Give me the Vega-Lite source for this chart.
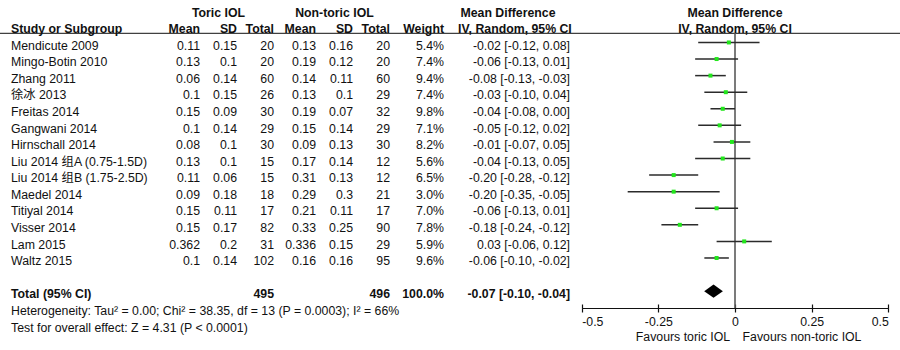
{
  "$schema": "https://vega.github.io/schema/vega-lite/v6.json",
  "width": 900,
  "height": 350,
  "padding": 0,
  "autosize": {"type": "none"},
  "background": "white",
  "config": {
    "view": {"stroke": null},
    "text": {"font": "Liberation Sans, Noto Sans CJK SC", "fontSize": 12.3, "baseline": "middle", "color": "#111"}
  },
  "datasets": {
    "studies": [
      {"study": "Mendicute 2009", "t_mean": 0.11, "t_sd": 0.15, "t_n": 20, "c_mean": 0.13, "c_sd": 0.16, "c_n": 20, "weight": 0.054, "md": -0.02, "lo": -0.12, "hi": 0.08, "ci": "-0.02 [-0.12, 0.08]"},
      {"study": "Mingo-Botin 2010", "t_mean": 0.13, "t_sd": 0.1, "t_n": 20, "c_mean": 0.19, "c_sd": 0.12, "c_n": 20, "weight": 0.074, "md": -0.06, "lo": -0.13, "hi": 0.01, "ci": "-0.06 [-0.13, 0.01]"},
      {"study": "Zhang 2011", "t_mean": 0.06, "t_sd": 0.14, "t_n": 60, "c_mean": 0.14, "c_sd": 0.11, "c_n": 60, "weight": 0.094, "md": -0.08, "lo": -0.13, "hi": -0.03, "ci": "-0.08 [-0.13, -0.03]"},
      {"study": "徐冰 2013", "t_mean": 0.1, "t_sd": 0.15, "t_n": 26, "c_mean": 0.13, "c_sd": 0.1, "c_n": 29, "weight": 0.074, "md": -0.03, "lo": -0.10, "hi": 0.04, "ci": "-0.03 [-0.10, 0.04]"},
      {"study": "Freitas 2014", "t_mean": 0.15, "t_sd": 0.09, "t_n": 30, "c_mean": 0.19, "c_sd": 0.07, "c_n": 32, "weight": 0.098, "md": -0.04, "lo": -0.08, "hi": 0.0, "ci": "-0.04 [-0.08, 0.00]"},
      {"study": "Gangwani 2014", "t_mean": 0.1, "t_sd": 0.14, "t_n": 29, "c_mean": 0.15, "c_sd": 0.14, "c_n": 29, "weight": 0.071, "md": -0.05, "lo": -0.12, "hi": 0.02, "ci": "-0.05 [-0.12, 0.02]"},
      {"study": "Hirnschall 2014", "t_mean": 0.08, "t_sd": 0.1, "t_n": 30, "c_mean": 0.09, "c_sd": 0.13, "c_n": 30, "weight": 0.082, "md": -0.01, "lo": -0.07, "hi": 0.05, "ci": "-0.01 [-0.07, 0.05]"},
      {"study": "Liu 2014 组A (0.75-1.5D)", "t_mean": 0.13, "t_sd": 0.1, "t_n": 15, "c_mean": 0.17, "c_sd": 0.14, "c_n": 12, "weight": 0.056, "md": -0.04, "lo": -0.13, "hi": 0.05, "ci": "-0.04 [-0.13, 0.05]"},
      {"study": "Liu 2014 组B (1.75-2.5D)", "t_mean": 0.11, "t_sd": 0.06, "t_n": 15, "c_mean": 0.31, "c_sd": 0.13, "c_n": 12, "weight": 0.065, "md": -0.20, "lo": -0.28, "hi": -0.12, "ci": "-0.20 [-0.28, -0.12]"},
      {"study": "Maedel 2014", "t_mean": 0.09, "t_sd": 0.18, "t_n": 18, "c_mean": 0.29, "c_sd": 0.3, "c_n": 21, "weight": 0.03, "md": -0.20, "lo": -0.35, "hi": -0.05, "ci": "-0.20 [-0.35, -0.05]"},
      {"study": "Titiyal 2014", "t_mean": 0.15, "t_sd": 0.11, "t_n": 17, "c_mean": 0.21, "c_sd": 0.11, "c_n": 17, "weight": 0.07, "md": -0.06, "lo": -0.13, "hi": 0.01, "ci": "-0.06 [-0.13, 0.01]"},
      {"study": "Visser 2014", "t_mean": 0.15, "t_sd": 0.17, "t_n": 82, "c_mean": 0.33, "c_sd": 0.25, "c_n": 90, "weight": 0.078, "md": -0.18, "lo": -0.24, "hi": -0.12, "ci": "-0.18 [-0.24, -0.12]"},
      {"study": "Lam 2015", "t_mean": 0.362, "t_sd": 0.2, "t_n": 31, "c_mean": 0.336, "c_sd": 0.15, "c_n": 29, "weight": 0.059, "md": 0.03, "lo": -0.06, "hi": 0.12, "ci": "0.03 [-0.06, 0.12]"},
      {"study": "Waltz 2015", "t_mean": 0.1, "t_sd": 0.14, "t_n": 102, "c_mean": 0.16, "c_sd": 0.16, "c_n": 95, "weight": 0.096, "md": -0.06, "lo": -0.10, "hi": -0.02, "ci": "-0.06 [-0.10, -0.02]"}
    ],
    "total": [
      {"study": "Total (95% CI)", "t_n": 495, "c_n": 496, "weight": 1.0, "md": -0.07, "lo": -0.10, "hi": -0.04, "ci": "-0.07 [-0.10, -0.04]"}
    ],
    "headers": [
      {"line": "h1", "col": "t_sd", "text": "Toric IOL"},
      {"line": "h1", "col": "c_sd", "text": "Non-toric IOL"},
      {"line": "h1", "col": "ci", "text": "Mean Difference"},
      {"line": "h1", "col": "plot", "text": "Mean Difference"},
      {"line": "h2", "col": "study", "text": "Study or Subgroup"},
      {"line": "h2", "col": "t_mean", "text": "Mean"},
      {"line": "h2", "col": "t_sd", "text": "SD"},
      {"line": "h2", "col": "t_n", "text": "Total"},
      {"line": "h2", "col": "c_mean", "text": "Mean"},
      {"line": "h2", "col": "c_sd", "text": "SD"},
      {"line": "h2", "col": "c_n", "text": "Total"},
      {"line": "h2", "col": "weight", "text": "Weight"},
      {"line": "h2", "col": "ci", "text": "IV, Random, 95% CI"},
      {"line": "h2", "col": "plot", "text": "IV, Random, 95% CI"}
    ],
    "footers": [
      {"line": "het", "col": "study", "text": "Heterogeneity: Tau² = 0.00; Chi² = 38.35, df = 13 (P = 0.0003); I² = 66%"},
      {"line": "test", "col": "study", "text": "Test for overall effect: Z = 4.31 (P < 0.0001)"}
    ],
    "favours": [
      {"side": "toric", "text": "Favours toric IOL"},
      {"side": "non-toric", "text": "Favours non-toric IOL"}
    ]
  },
  "layer": [
    {
      "data": {"values": [{"element": "header rule"}]},
      "mark": {"type": "rule", "color": "#111", "strokeWidth": 1},
      "encoding": {
        "y": {"datum": 0, "type": "quantitative", "scale": {"domain": [0, 1], "range": [33.3, 308], "nice": false, "zero": false}, "axis": null}
      }
    },
    {
      "data": {"values": [{"element": "zero line"}]},
      "mark": {"type": "rule", "color": "#5a5a5a", "strokeWidth": 1.6},
      "encoding": {
        "x": {"datum": 0, "type": "quantitative", "scale": {"domain": [-0.5, 0.5], "range": [581.7, 888.3], "nice": false, "zero": false},
          "axis": {"orient": "bottom", "offset": -42, "values": [-0.5, -0.25, 0, 0.25, 0.5], "domain": false, "ticks": true, "tickSize": -4, "tickColor": "#111", "tickWidth": 1.2, "labels": false, "grid": false, "title": null}},
        "y": {"datum": 0, "type": "quantitative", "scale": {"domain": [0, 1], "range": [33.3, 308], "nice": false, "zero": false}, "axis": null},
        "y2": {"datum": 1}
      }
    },
    {
      "data": {"name": "favours"},
      "mark": {"type": "text", "align": "center"},
      "encoding": {
        "x": {"field": "side", "type": "nominal", "scale": {"type": "point", "domain": ["toric", "non-toric"], "range": [683, 802], "padding": 0}, "axis": null},
        "y": {"field": "side", "type": "nominal", "scale": {"type": "point", "domain": ["toric", "non-toric"], "range": [336.7, 336.7], "padding": 0}, "axis": null},
        "text": {"field": "text", "type": "nominal"}
      }
    },
    {
      "data": {"name": "studies"},
      "transform": [{"fold": ["study"], "as": ["col", "val"]}],
      "mark": {"type": "text", "align": "left"},
      "encoding": {
        "x": {"field": "col", "type": "nominal", "bandPosition": 0, "scale": {"type": "band", "domain": ["study"], "range": [11, 150], "paddingInner": 0, "paddingOuter": 0}, "axis": null},
        "y": {"field": "study", "type": "nominal", "scale": {"type": "point", "domain": ["h1","h2","Mendicute 2009","Mingo-Botin 2010","Zhang 2011","徐冰 2013","Freitas 2014","Gangwani 2014","Hirnschall 2014","Liu 2014 组A (0.75-1.5D)","Liu 2014 组B (1.75-2.5D)","Maedel 2014","Titiyal 2014","Visser 2014","Lam 2015","Waltz 2015","gap","Total (95% CI)","het","test"], "range": [12.5, 327.5], "padding": 0}, "axis": null},
        "text": {"field": "val", "type": "nominal"}
      }
    },
    {
      "data": {"name": "total"},
      "transform": [{"fold": ["study"], "as": ["col", "val"]}],
      "mark": {"type": "text", "align": "left", "fontWeight": "bold"},
      "encoding": {
        "x": {"field": "col", "type": "nominal", "bandPosition": 0, "scale": {"type": "band", "domain": ["study"], "range": [11, 150], "paddingInner": 0, "paddingOuter": 0}, "axis": null},
        "y": {"field": "study", "type": "nominal", "scale": {"type": "point", "domain": ["h1","h2","Mendicute 2009","Mingo-Botin 2010","Zhang 2011","徐冰 2013","Freitas 2014","Gangwani 2014","Hirnschall 2014","Liu 2014 组A (0.75-1.5D)","Liu 2014 组B (1.75-2.5D)","Maedel 2014","Titiyal 2014","Visser 2014","Lam 2015","Waltz 2015","gap","Total (95% CI)","het","test"], "range": [12.5, 327.5], "padding": 0}, "axis": null},
        "text": {"field": "val", "type": "nominal"}
      }
    },
    {
      "data": {"name": "headers"},
      "transform": [{"filter": "datum.col == 'study'"}],
      "mark": {"type": "text", "align": "left", "fontWeight": "bold"},
      "encoding": {
        "x": {"field": "col", "type": "nominal", "bandPosition": 0, "scale": {"type": "band", "domain": ["study"], "range": [11, 150], "paddingInner": 0, "paddingOuter": 0}, "axis": null},
        "y": {"field": "line", "type": "nominal", "scale": {"type": "point", "domain": ["h1","h2","Mendicute 2009","Mingo-Botin 2010","Zhang 2011","徐冰 2013","Freitas 2014","Gangwani 2014","Hirnschall 2014","Liu 2014 组A (0.75-1.5D)","Liu 2014 组B (1.75-2.5D)","Maedel 2014","Titiyal 2014","Visser 2014","Lam 2015","Waltz 2015","gap","Total (95% CI)","het","test"], "range": [12.5, 327.5], "padding": 0}, "axis": null},
        "text": {"field": "text", "type": "nominal"}
      }
    },
    {
      "data": {"name": "footers"},
      "mark": {"type": "text", "align": "left"},
      "encoding": {
        "x": {"field": "col", "type": "nominal", "bandPosition": 0, "scale": {"type": "band", "domain": ["study"], "range": [11, 150], "paddingInner": 0, "paddingOuter": 0}, "axis": null},
        "y": {"field": "line", "type": "nominal", "scale": {"type": "point", "domain": ["h1","h2","Mendicute 2009","Mingo-Botin 2010","Zhang 2011","徐冰 2013","Freitas 2014","Gangwani 2014","Hirnschall 2014","Liu 2014 组A (0.75-1.5D)","Liu 2014 组B (1.75-2.5D)","Maedel 2014","Titiyal 2014","Visser 2014","Lam 2015","Waltz 2015","gap","Total (95% CI)","het","test"], "range": [12.5, 327.5], "padding": 0}, "axis": null},
        "text": {"field": "text", "type": "nominal"}
      }
    },
    {
      "data": {"name": "studies"},
      "transform": [{"fold": ["t_mean", "t_sd", "t_n"], "as": ["col", "val"]}],
      "mark": {"type": "text", "align": "right"},
      "encoding": {
        "x": {"field": "col", "type": "nominal", "bandPosition": 1, "scale": {"type": "band", "domain": ["t_mean", "t_sd", "t_n"], "range": [163, 274], "paddingInner": 0, "paddingOuter": 0}, "axis": null},
        "y": {"field": "study", "type": "nominal", "scale": {"type": "point", "domain": ["h1","h2","Mendicute 2009","Mingo-Botin 2010","Zhang 2011","徐冰 2013","Freitas 2014","Gangwani 2014","Hirnschall 2014","Liu 2014 组A (0.75-1.5D)","Liu 2014 组B (1.75-2.5D)","Maedel 2014","Titiyal 2014","Visser 2014","Lam 2015","Waltz 2015","gap","Total (95% CI)","het","test"], "range": [12.5, 327.5], "padding": 0}, "axis": null},
        "text": {"field": "val", "type": "nominal"}
      }
    },
    {
      "data": {"name": "total"},
      "transform": [{"fold": ["t_n"], "as": ["col", "val"]}],
      "mark": {"type": "text", "align": "right", "fontWeight": "bold"},
      "encoding": {
        "x": {"field": "col", "type": "nominal", "bandPosition": 1, "scale": {"type": "band", "domain": ["t_mean", "t_sd", "t_n"], "range": [163, 274], "paddingInner": 0, "paddingOuter": 0}, "axis": null},
        "y": {"field": "study", "type": "nominal", "scale": {"type": "point", "domain": ["h1","h2","Mendicute 2009","Mingo-Botin 2010","Zhang 2011","徐冰 2013","Freitas 2014","Gangwani 2014","Hirnschall 2014","Liu 2014 组A (0.75-1.5D)","Liu 2014 组B (1.75-2.5D)","Maedel 2014","Titiyal 2014","Visser 2014","Lam 2015","Waltz 2015","gap","Total (95% CI)","het","test"], "range": [12.5, 327.5], "padding": 0}, "axis": null},
        "text": {"field": "val", "type": "nominal"}
      }
    },
    {
      "data": {"name": "headers"},
      "transform": [{"filter": "datum.line == 'h2' && indexof(datum.col, 't_') == 0"}],
      "mark": {"type": "text", "align": "right", "fontWeight": "bold"},
      "encoding": {
        "x": {"field": "col", "type": "nominal", "bandPosition": 1, "scale": {"type": "band", "domain": ["t_mean", "t_sd", "t_n"], "range": [163, 274], "paddingInner": 0, "paddingOuter": 0}, "axis": null},
        "y": {"field": "line", "type": "nominal", "scale": {"type": "point", "domain": ["h1","h2","Mendicute 2009","Mingo-Botin 2010","Zhang 2011","徐冰 2013","Freitas 2014","Gangwani 2014","Hirnschall 2014","Liu 2014 组A (0.75-1.5D)","Liu 2014 组B (1.75-2.5D)","Maedel 2014","Titiyal 2014","Visser 2014","Lam 2015","Waltz 2015","gap","Total (95% CI)","het","test"], "range": [12.5, 327.5], "padding": 0}, "axis": null},
        "text": {"field": "text", "type": "nominal"}
      }
    },
    {
      "data": {"name": "headers"},
      "transform": [{"filter": "datum.line == 'h1' && datum.col == 't_sd'"}],
      "mark": {"type": "text", "align": "center", "fontWeight": "bold"},
      "encoding": {
        "x": {"field": "col", "type": "nominal", "bandPosition": 0.5, "scale": {"type": "band", "domain": ["t_mean", "t_sd", "t_n"], "range": [163, 274], "paddingInner": 0, "paddingOuter": 0}, "axis": null},
        "y": {"field": "line", "type": "nominal", "scale": {"type": "point", "domain": ["h1","h2","Mendicute 2009","Mingo-Botin 2010","Zhang 2011","徐冰 2013","Freitas 2014","Gangwani 2014","Hirnschall 2014","Liu 2014 组A (0.75-1.5D)","Liu 2014 组B (1.75-2.5D)","Maedel 2014","Titiyal 2014","Visser 2014","Lam 2015","Waltz 2015","gap","Total (95% CI)","het","test"], "range": [12.5, 327.5], "padding": 0}, "axis": null},
        "text": {"field": "text", "type": "nominal"}
      }
    },
    {
      "data": {"name": "studies"},
      "transform": [{"fold": ["c_mean", "c_sd", "c_n"], "as": ["col", "val"]}],
      "mark": {"type": "text", "align": "right"},
      "encoding": {
        "x": {"field": "col", "type": "nominal", "bandPosition": 1, "scale": {"type": "band", "domain": ["c_mean", "c_sd", "c_n"], "range": [279, 390], "paddingInner": 0, "paddingOuter": 0}, "axis": null},
        "y": {"field": "study", "type": "nominal", "scale": {"type": "point", "domain": ["h1","h2","Mendicute 2009","Mingo-Botin 2010","Zhang 2011","徐冰 2013","Freitas 2014","Gangwani 2014","Hirnschall 2014","Liu 2014 组A (0.75-1.5D)","Liu 2014 组B (1.75-2.5D)","Maedel 2014","Titiyal 2014","Visser 2014","Lam 2015","Waltz 2015","gap","Total (95% CI)","het","test"], "range": [12.5, 327.5], "padding": 0}, "axis": null},
        "text": {"field": "val", "type": "nominal"}
      }
    },
    {
      "data": {"name": "total"},
      "transform": [{"fold": ["c_n"], "as": ["col", "val"]}],
      "mark": {"type": "text", "align": "right", "fontWeight": "bold"},
      "encoding": {
        "x": {"field": "col", "type": "nominal", "bandPosition": 1, "scale": {"type": "band", "domain": ["c_mean", "c_sd", "c_n"], "range": [279, 390], "paddingInner": 0, "paddingOuter": 0}, "axis": null},
        "y": {"field": "study", "type": "nominal", "scale": {"type": "point", "domain": ["h1","h2","Mendicute 2009","Mingo-Botin 2010","Zhang 2011","徐冰 2013","Freitas 2014","Gangwani 2014","Hirnschall 2014","Liu 2014 组A (0.75-1.5D)","Liu 2014 组B (1.75-2.5D)","Maedel 2014","Titiyal 2014","Visser 2014","Lam 2015","Waltz 2015","gap","Total (95% CI)","het","test"], "range": [12.5, 327.5], "padding": 0}, "axis": null},
        "text": {"field": "val", "type": "nominal"}
      }
    },
    {
      "data": {"name": "headers"},
      "transform": [{"filter": "datum.line == 'h2' && indexof(datum.col, 'c_') == 0"}],
      "mark": {"type": "text", "align": "right", "fontWeight": "bold"},
      "encoding": {
        "x": {"field": "col", "type": "nominal", "bandPosition": 1, "scale": {"type": "band", "domain": ["c_mean", "c_sd", "c_n"], "range": [279, 390], "paddingInner": 0, "paddingOuter": 0}, "axis": null},
        "y": {"field": "line", "type": "nominal", "scale": {"type": "point", "domain": ["h1","h2","Mendicute 2009","Mingo-Botin 2010","Zhang 2011","徐冰 2013","Freitas 2014","Gangwani 2014","Hirnschall 2014","Liu 2014 组A (0.75-1.5D)","Liu 2014 组B (1.75-2.5D)","Maedel 2014","Titiyal 2014","Visser 2014","Lam 2015","Waltz 2015","gap","Total (95% CI)","het","test"], "range": [12.5, 327.5], "padding": 0}, "axis": null},
        "text": {"field": "text", "type": "nominal"}
      }
    },
    {
      "data": {"name": "headers"},
      "transform": [{"filter": "datum.line == 'h1' && datum.col == 'c_sd'"}],
      "mark": {"type": "text", "align": "center", "fontWeight": "bold"},
      "encoding": {
        "x": {"field": "col", "type": "nominal", "bandPosition": 0.5, "scale": {"type": "band", "domain": ["c_mean", "c_sd", "c_n"], "range": [279, 390], "paddingInner": 0, "paddingOuter": 0}, "axis": null},
        "y": {"field": "line", "type": "nominal", "scale": {"type": "point", "domain": ["h1","h2","Mendicute 2009","Mingo-Botin 2010","Zhang 2011","徐冰 2013","Freitas 2014","Gangwani 2014","Hirnschall 2014","Liu 2014 组A (0.75-1.5D)","Liu 2014 组B (1.75-2.5D)","Maedel 2014","Titiyal 2014","Visser 2014","Lam 2015","Waltz 2015","gap","Total (95% CI)","het","test"], "range": [12.5, 327.5], "padding": 0}, "axis": null},
        "text": {"field": "text", "type": "nominal"}
      }
    },
    {
      "data": {"name": "studies"},
      "transform": [{"fold": ["weight"], "as": ["col", "val"]}],
      "mark": {"type": "text", "align": "right"},
      "encoding": {
        "x": {"field": "col", "type": "nominal", "bandPosition": 1, "scale": {"type": "band", "domain": ["weight"], "range": [400, 444], "paddingInner": 0, "paddingOuter": 0}, "axis": null},
        "y": {"field": "study", "type": "nominal", "scale": {"type": "point", "domain": ["h1","h2","Mendicute 2009","Mingo-Botin 2010","Zhang 2011","徐冰 2013","Freitas 2014","Gangwani 2014","Hirnschall 2014","Liu 2014 组A (0.75-1.5D)","Liu 2014 组B (1.75-2.5D)","Maedel 2014","Titiyal 2014","Visser 2014","Lam 2015","Waltz 2015","gap","Total (95% CI)","het","test"], "range": [12.5, 327.5], "padding": 0}, "axis": null},
        "text": {"field": "val", "type": "quantitative", "format": ".1%"}
      }
    },
    {
      "data": {"name": "total"},
      "transform": [{"fold": ["weight"], "as": ["col", "val"]}],
      "mark": {"type": "text", "align": "right", "fontWeight": "bold"},
      "encoding": {
        "x": {"field": "col", "type": "nominal", "bandPosition": 1, "scale": {"type": "band", "domain": ["weight"], "range": [400, 444], "paddingInner": 0, "paddingOuter": 0}, "axis": null},
        "y": {"field": "study", "type": "nominal", "scale": {"type": "point", "domain": ["h1","h2","Mendicute 2009","Mingo-Botin 2010","Zhang 2011","徐冰 2013","Freitas 2014","Gangwani 2014","Hirnschall 2014","Liu 2014 组A (0.75-1.5D)","Liu 2014 组B (1.75-2.5D)","Maedel 2014","Titiyal 2014","Visser 2014","Lam 2015","Waltz 2015","gap","Total (95% CI)","het","test"], "range": [12.5, 327.5], "padding": 0}, "axis": null},
        "text": {"field": "val", "type": "quantitative", "format": ".1%"}
      }
    },
    {
      "data": {"name": "headers"},
      "transform": [{"filter": "datum.col == 'weight'"}],
      "mark": {"type": "text", "align": "right", "fontWeight": "bold"},
      "encoding": {
        "x": {"field": "col", "type": "nominal", "bandPosition": 1, "scale": {"type": "band", "domain": ["weight"], "range": [400, 444], "paddingInner": 0, "paddingOuter": 0}, "axis": null},
        "y": {"field": "line", "type": "nominal", "scale": {"type": "point", "domain": ["h1","h2","Mendicute 2009","Mingo-Botin 2010","Zhang 2011","徐冰 2013","Freitas 2014","Gangwani 2014","Hirnschall 2014","Liu 2014 组A (0.75-1.5D)","Liu 2014 组B (1.75-2.5D)","Maedel 2014","Titiyal 2014","Visser 2014","Lam 2015","Waltz 2015","gap","Total (95% CI)","het","test"], "range": [12.5, 327.5], "padding": 0}, "axis": null},
        "text": {"field": "text", "type": "nominal"}
      }
    },
    {
      "data": {"name": "studies"},
      "transform": [{"fold": ["ci"], "as": ["col", "val"]}],
      "mark": {"type": "text", "align": "right"},
      "encoding": {
        "x": {"field": "col", "type": "nominal", "bandPosition": 1, "scale": {"type": "band", "domain": ["ci"], "range": [446, 570], "paddingInner": 0, "paddingOuter": 0}, "axis": null},
        "y": {"field": "study", "type": "nominal", "scale": {"type": "point", "domain": ["h1","h2","Mendicute 2009","Mingo-Botin 2010","Zhang 2011","徐冰 2013","Freitas 2014","Gangwani 2014","Hirnschall 2014","Liu 2014 组A (0.75-1.5D)","Liu 2014 组B (1.75-2.5D)","Maedel 2014","Titiyal 2014","Visser 2014","Lam 2015","Waltz 2015","gap","Total (95% CI)","het","test"], "range": [12.5, 327.5], "padding": 0}, "axis": null},
        "text": {"field": "val", "type": "nominal"}
      }
    },
    {
      "data": {"name": "total"},
      "transform": [{"fold": ["ci"], "as": ["col", "val"]}],
      "mark": {"type": "text", "align": "right", "fontWeight": "bold"},
      "encoding": {
        "x": {"field": "col", "type": "nominal", "bandPosition": 1, "scale": {"type": "band", "domain": ["ci"], "range": [446, 570], "paddingInner": 0, "paddingOuter": 0}, "axis": null},
        "y": {"field": "study", "type": "nominal", "scale": {"type": "point", "domain": ["h1","h2","Mendicute 2009","Mingo-Botin 2010","Zhang 2011","徐冰 2013","Freitas 2014","Gangwani 2014","Hirnschall 2014","Liu 2014 组A (0.75-1.5D)","Liu 2014 组B (1.75-2.5D)","Maedel 2014","Titiyal 2014","Visser 2014","Lam 2015","Waltz 2015","gap","Total (95% CI)","het","test"], "range": [12.5, 327.5], "padding": 0}, "axis": null},
        "text": {"field": "val", "type": "nominal"}
      }
    },
    {
      "data": {"name": "headers"},
      "transform": [{"filter": "datum.col == 'ci' && datum.line == 'h1'"}],
      "mark": {"type": "text", "align": "center", "fontWeight": "bold"},
      "encoding": {
        "x": {"field": "col", "type": "nominal", "bandPosition": 0.5, "scale": {"type": "band", "domain": ["ci"], "range": [446, 570], "paddingInner": 0, "paddingOuter": 0}, "axis": null},
        "y": {"field": "line", "type": "nominal", "scale": {"type": "point", "domain": ["h1","h2","Mendicute 2009","Mingo-Botin 2010","Zhang 2011","徐冰 2013","Freitas 2014","Gangwani 2014","Hirnschall 2014","Liu 2014 组A (0.75-1.5D)","Liu 2014 组B (1.75-2.5D)","Maedel 2014","Titiyal 2014","Visser 2014","Lam 2015","Waltz 2015","gap","Total (95% CI)","het","test"], "range": [12.5, 327.5], "padding": 0}, "axis": null},
        "text": {"field": "text", "type": "nominal"}
      }
    },
    {
      "data": {"name": "headers"},
      "transform": [{"filter": "datum.col == 'ci' && datum.line == 'h2'"}],
      "mark": {"type": "text", "align": "center", "fontWeight": "bold"},
      "encoding": {
        "x": {"field": "col", "type": "nominal", "bandPosition": 0.556, "scale": {"type": "band", "domain": ["ci"], "range": [446, 570], "paddingInner": 0, "paddingOuter": 0}, "axis": null},
        "y": {"field": "line", "type": "nominal", "scale": {"type": "point", "domain": ["h1","h2","Mendicute 2009","Mingo-Botin 2010","Zhang 2011","徐冰 2013","Freitas 2014","Gangwani 2014","Hirnschall 2014","Liu 2014 组A (0.75-1.5D)","Liu 2014 组B (1.75-2.5D)","Maedel 2014","Titiyal 2014","Visser 2014","Lam 2015","Waltz 2015","gap","Total (95% CI)","het","test"], "range": [12.5, 327.5], "padding": 0}, "axis": null},
        "text": {"field": "text", "type": "nominal"}
      }
    },
    {
      "data": {"name": "studies"},
      "mark": {"type": "rule", "color": "#2b2b2b", "strokeWidth": 1.5},
      "encoding": {
        "x": {"field": "lo", "type": "quantitative", "scale": {"domain": [-0.5, 0.5], "range": [581.7, 888.3], "nice": false, "zero": false},
          "axis": {"orient": "bottom", "offset": -42, "values": [-0.5, -0.25, 0, 0.25, 0.5], "labelExpr": "datum.value + ''", "grid": false,
            "domainColor": "#111", "domainWidth": 1.2, "tickColor": "#111", "tickWidth": 1.2, "tickSize": 4,
            "labelFont": "Liberation Sans", "labelFontSize": 12.3, "labelColor": "#111", "labelPadding": 3, "labelFlush": true, "labelOverlap": false,
            "title": null}},
        "x2": {"field": "hi"},
        "y": {"field": "study", "type": "nominal", "scale": {"type": "point", "domain": ["h1","h2","Mendicute 2009","Mingo-Botin 2010","Zhang 2011","徐冰 2013","Freitas 2014","Gangwani 2014","Hirnschall 2014","Liu 2014 组A (0.75-1.5D)","Liu 2014 组B (1.75-2.5D)","Maedel 2014","Titiyal 2014","Visser 2014","Lam 2015","Waltz 2015","gap","Total (95% CI)","het","test"], "range": [9.3, 324.3], "padding": 0}, "axis": null}
      }
    },
    {
      "data": {"name": "studies"},
      "mark": {"type": "point", "shape": "square", "filled": true, "color": "#22e61c", "opacity": 1, "size": 16},
      "encoding": {
        "x": {"field": "md", "type": "quantitative", "scale": {"domain": [-0.5, 0.5], "range": [581.7, 888.3], "nice": false, "zero": false}, "axis": null},
        "y": {"field": "study", "type": "nominal", "scale": {"type": "point", "domain": ["h1","h2","Mendicute 2009","Mingo-Botin 2010","Zhang 2011","徐冰 2013","Freitas 2014","Gangwani 2014","Hirnschall 2014","Liu 2014 组A (0.75-1.5D)","Liu 2014 组B (1.75-2.5D)","Maedel 2014","Titiyal 2014","Visser 2014","Lam 2015","Waltz 2015","gap","Total (95% CI)","het","test"], "range": [9.3, 324.3], "padding": 0}, "axis": null}
      }
    },
    {
      "data": {"name": "total"},
      "mark": {"type": "point", "shape": "M -1 0 L 0 -0.7 L 1 0 L 0 0.7 Z", "filled": true, "color": "#000", "opacity": 1, "size": 350},
      "encoding": {
        "x": {"field": "md", "type": "quantitative", "scale": {"domain": [-0.5, 0.5], "range": [581.7, 888.3], "nice": false, "zero": false}, "axis": null},
        "y": {"field": "study", "type": "nominal", "scale": {"type": "point", "domain": ["h1","h2","Mendicute 2009","Mingo-Botin 2010","Zhang 2011","徐冰 2013","Freitas 2014","Gangwani 2014","Hirnschall 2014","Liu 2014 组A (0.75-1.5D)","Liu 2014 组B (1.75-2.5D)","Maedel 2014","Titiyal 2014","Visser 2014","Lam 2015","Waltz 2015","gap","Total (95% CI)","het","test"], "range": [9.3, 324.3], "padding": 0}, "axis": null}
      }
    },
    {
      "data": {"name": "headers"},
      "transform": [{"filter": "datum.col == 'plot'"}],
      "mark": {"type": "text", "align": "center", "fontWeight": "bold"},
      "encoding": {
        "x": {"datum": 0, "type": "quantitative", "scale": {"domain": [-0.5, 0.5], "range": [581.7, 888.3], "nice": false, "zero": false}, "axis": null},
        "y": {"field": "line", "type": "nominal", "scale": {"type": "point", "domain": ["h1","h2","Mendicute 2009","Mingo-Botin 2010","Zhang 2011","徐冰 2013","Freitas 2014","Gangwani 2014","Hirnschall 2014","Liu 2014 组A (0.75-1.5D)","Liu 2014 组B (1.75-2.5D)","Maedel 2014","Titiyal 2014","Visser 2014","Lam 2015","Waltz 2015","gap","Total (95% CI)","het","test"], "range": [12.5, 327.5], "padding": 0}, "axis": null},
        "text": {"field": "text", "type": "nominal"}
      }
    }
  ],
  "resolve": {
    "scale": {"x": "independent", "y": "independent"},
    "axis": {"x": "independent", "y": "independent"}
  }
}
